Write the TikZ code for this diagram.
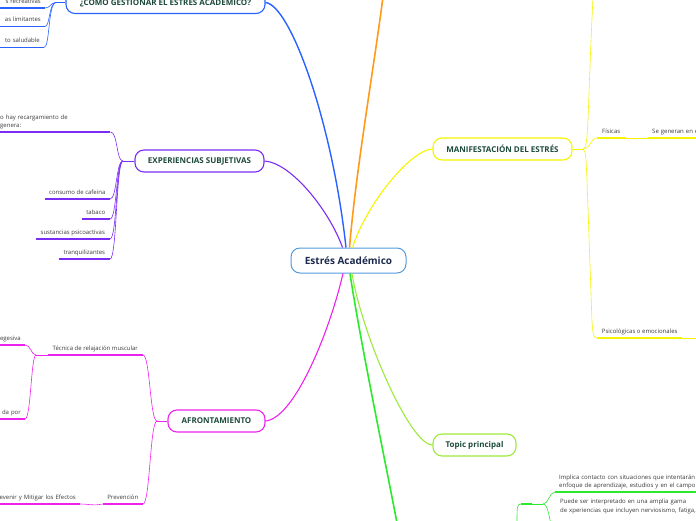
\documentclass[tikz,border=0pt]{standalone}
\usepackage{fontspec}
\setmainfont{Open Sans}
\definecolor{cblue}{HTML}{5599DD}
\definecolor{cnavy}{HTML}{1C2B4D}
\definecolor{ntxt}{HTML}{1D4A3C}
\definecolor{ltxt}{HTML}{3A3A3A}
\definecolor{bluC}{HTML}{2962FF}
\definecolor{purC}{HTML}{7B2CF5}
\definecolor{magC}{HTML}{EE22EE}
\definecolor{yelC}{HTML}{F5F500}
\definecolor{limC}{HTML}{9CEB3A}
\definecolor{grnC}{HTML}{2BEA2B}
\definecolor{oraC}{HTML}{FF9A1A}
\begin{document}
\begin{tikzpicture}[x=1pt,y=-1pt,
  branchbox/.style={draw, rounded corners=9pt, line width=1.1pt, fill=white, text=ntxt,
     font=\fontsize{8}{9}\selectfont\bfseries, minimum height=22pt, inner sep=0pt},
  leaf/.style={font=\fontsize{6}{8}\selectfont, text=ltxt, inner xsep=4pt, inner ysep=3.1pt,
     text height=4.4pt, text depth=1.3pt},
  mleaf/.style={font=\fontsize{6}{8.5}\selectfont, text=ltxt, inner xsep=4pt, inner ysep=2.5pt, align=left},
  ul/.style={line width=1.5pt},
  sub/.style={line width=0.6pt},
  mainc/.style={line width=1.1pt}]
\useasboundingbox (0,0) rectangle (696,520);
\clip (0,0) rectangle (696,520);

% central node
\node[draw=cblue, line width=1pt, rounded corners=9pt, fill=white, text=cnavy,
      font=\fontsize{10}{11}\selectfont\bfseries, minimum width=115pt, minimum height=25pt, inner sep=0pt]
      (center) at (348.5,260.5) {Estrés Académico};

% branch nodes
\node[branchbox, draw=bluC, minimum width=199pt] (gest) at (165.5,2.5) {¿CÓMO GESTIONAR EL ESTRÉS ACADÉMICO?};
\node[branchbox, draw=purC, minimum width=129pt] (exp) at (199.5,161) {EXPERIENCIAS SUBJETIVAS};
\node[branchbox, draw=magC, minimum width=97pt] (afr) at (216.5,421) {AFRONTAMIENTO};
\node[branchbox, draw=yelC, minimum width=139pt] (man) at (502.5,149) {MANIFESTACIÓN DEL ESTRÉS};
\node[branchbox, draw=limC, minimum width=83pt] (topic) at (474.5,445) {Topic principal};

\coordinate (oend) at (383,-3);
\coordinate (gend) at (397,523);

% main connectors
\draw[bluC, line width=1.4pt] (gest.east) .. controls (290,5) and (332,120) .. ([xshift=-2.5pt]center.north);
\draw[oraC, line width=1.6pt] ([xshift=1pt]center.north) .. controls (356,170) and (372,80) .. (oend);
\draw[purC, mainc] (exp.east) .. controls (292,163) and (330,212) .. ([xshift=-6pt]center.north);
\draw[yelC, mainc] (man.west) .. controls (410,150) and (366,205) .. ([xshift=4pt]center.north);
\draw[magC, mainc] (afr.east) .. controls (295,418) and (330,330) .. ([xshift=-5.5pt]center.south);
\draw[limC, mainc] (topic.west) .. controls (410,445) and (362,335) .. ([xshift=3.5pt]center.south);
\draw[grnC, line width=1.6pt] ([xshift=1.5pt]center.south) .. controls (360,340) and (385,460) .. (gend);

% blue leaves
\node[leaf, anchor=south east, text width=50pt, align=right] (b1) at (45,8) {s recreativas};
\node[leaf, anchor=south east, text width=50pt, align=right] (b2) at (45,26.5) {as limitantes};
\node[leaf, anchor=south east, text width=50pt, align=right] (b3) at (44,47.5) {to saludable};
\coordinate (bj) at (56,2.5);
\foreach \n in {b1,b2,b3} \draw[bluC, ul] (\n.south west) -- (\n.south east);
\draw[bluC, sub] (gest.west) -- (bj);
\draw[bluC, sub] (bj) .. controls (50,2.5) and (51,8) .. (b1.south east);
\draw[bluC, sub] (bj) .. controls (49,2.5) and (50,26.5) .. (b2.south east);
\draw[bluC, sub] (bj) .. controls (48,2.5) and (50,47.5) .. (b3.south east);

% purple leaves
\node[mleaf, anchor=south west, text width=106pt] (p0) at (-4,132) {o hay recargamiento de\\genera:};
\node[leaf, anchor=south east, minimum width=65pt] (p1) at (110,199) {consumo de cafeina};
\node[leaf, anchor=south east, minimum width=28pt] (p2) at (110,219) {tabaco};
\node[leaf, anchor=south east, minimum width=74pt] (p3) at (110,239) {sustancias psicoactivas};
\node[leaf, anchor=south east, minimum width=51pt] (p4) at (110,259) {tranquilizantes};
\coordinate (pj) at (123,161);
\foreach \n in {p0,p1,p2,p3,p4} \draw[purC, ul] (\n.south west) -- (\n.south east);
\draw[purC, sub] (exp.west) -- (pj);
\draw[purC, sub] (pj) .. controls (116,161) and (118,132) .. (p0.south east);
\draw[purC, sub] (pj) .. controls (116,161) and (117,199) .. (p1.south east);
\draw[purC, sub] (pj) .. controls (116,161) and (117,219) .. (p2.south east);
\draw[purC, sub] (pj) .. controls (116,161) and (117,239) .. (p3.south east);
\draw[purC, sub] (pj) .. controls (116,161) and (117,259) .. (p4.south east);

% magenta leaves
\node[leaf, anchor=south east, minimum width=95pt] (m1) at (143,355) {Técnica de relajación muscular};
\node[leaf, anchor=south east, minimum width=40pt] (m2) at (143,504) {Prevención};
\node[leaf, anchor=south east, text width=40pt, align=right] (m1a) at (25,345) {egesiva};
\node[leaf, anchor=south east, text width=40pt, align=right] (m1b) at (25,419) {da por};
\node[leaf, anchor=south east, text width=90pt, align=right] (m2a) at (80,504) {evenir y Mitigar los Efectos};
\foreach \n in {m1,m2,m1a,m1b,m2a} \draw[magC, ul] (\n.south west) -- (\n.south east);
\coordinate (mj) at (157,421);
\coordinate (m1j) at (36,355);
\draw[magC, sub] (afr.west) -- (mj);
\draw[magC, sub] (mj) .. controls (150,421) and (150,355) .. (m1.south east);
\draw[magC, sub] (mj) .. controls (150,421) and (150,504) .. (m2.south east);
\draw[magC, sub] (m1.south west) -- (m1j);
\draw[magC, sub] (m1j) .. controls (31,355) and (31,345) .. (m1a.south east);
\draw[magC, sub] (m1j) .. controls (31,355) and (31,419) .. (m1b.south east);
\draw[magC, sub] (m2.south west) .. controls (92,506) and (90,504) .. (m2a.south east);

% yellow leaves
\node[leaf, anchor=south west, minimum width=28pt] (y1) at (597,138) {Físicas};
\node[leaf, anchor=south west, text width=60pt, align=left] (y1a) at (648,138) {Se generan en e};
\node[leaf, anchor=south west, minimum width=85pt] (y2) at (597,338) {Psicológicas o emocionales};
\foreach \n in {y1,y1a,y2} \draw[yelC, ul] (\n.south west) -- (\n.south east);
\coordinate (yj) at (583,149);
\coordinate (yup) at (593,-3);
\coordinate (y2out) at (700,338);
\draw[yelC, sub] (man.east) -- (yj);
\draw[yelC, sub] (yj) .. controls (589,149) and (587,120) .. (yup);
\draw[yelC, sub] (yj) .. controls (591,149) and (590,138) .. (y1.south west);
\draw[yelC, sub] (y1.south east) -- (y1a.south west);
\draw[yelC, sub] (yj) .. controls (586,150) and (586,160) .. (587,180) -- (592,322) .. controls (593,336) and (594,338) .. (y2.south west);
\draw[yelC, sub] (y2.south east) -- (y2out);

% green sub-branch
\coordinate (g0in) at (517,523);
\coordinate (g0w) at (521,504);
\coordinate (g0e) at (532,504);
\coordinate (gj) at (543,504);
\coordinate (g2u) at (553,530);
\node[mleaf, anchor=south west, text width=170pt] (g1) at (555,492) {Implica contacto con situaciones que intentarán c\\enfoque de aprendizaje, estudios y en el campo s};
\node[mleaf, anchor=north west, text width=170pt, inner ysep=0pt] (g2) at (556,499) {Puede ser interpretado en una amplia gama\\de xperiencias que incluyen nerviosismo, fatiga, e};
\draw[grnC, ul] (g1.south west) -- (g1.south east);
\draw[grnC, sub] (g0in) .. controls (517,507) and (517,504) .. (g0w);
\draw[grnC, ul] (g0w) -- (g0e);
\draw[grnC, sub] (g0e) -- (gj);
\draw[grnC, sub] (gj) .. controls (549,504) and (549,492) .. (g1.south west);
\draw[grnC, sub] (gj) .. controls (549,504) and (549,522) .. (g2u);
\end{tikzpicture}
\end{document}
